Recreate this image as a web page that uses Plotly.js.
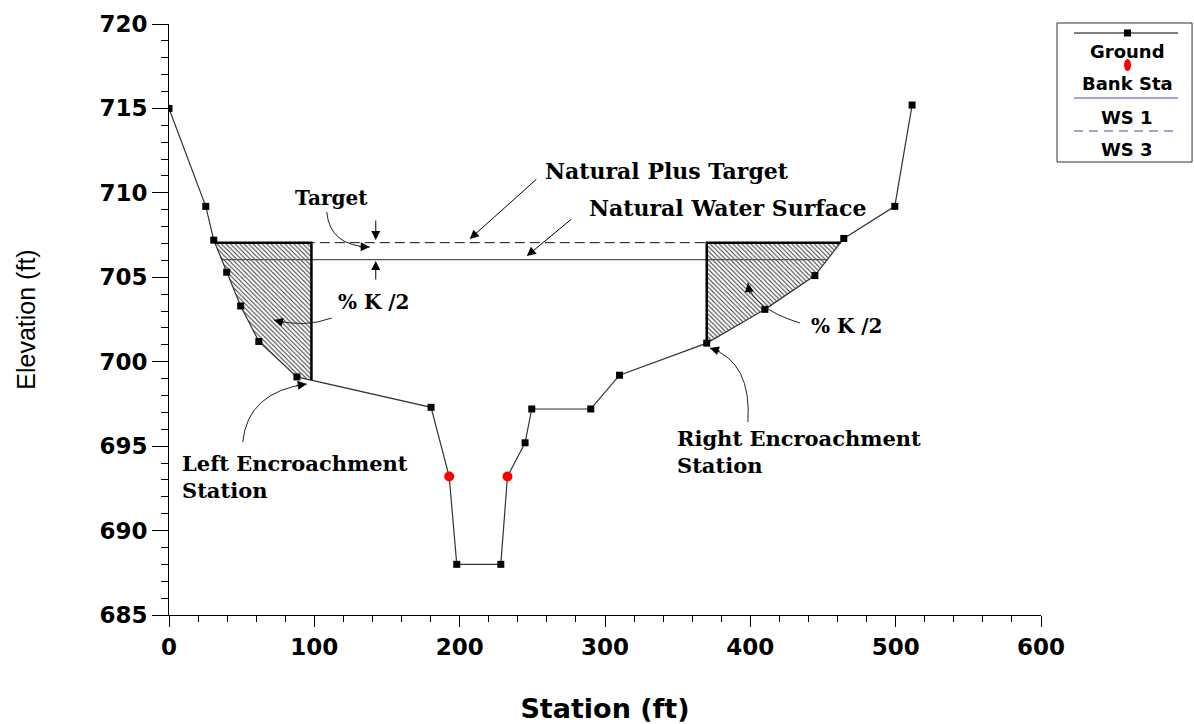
<!DOCTYPE html>
<html>
<head>
<meta charset="utf-8">
<script src="https://cdn.plot.ly/plotly-3.0.1.min.js"></script>
<style>html,body{margin:0;padding:0;background:#fff;}#chart{width:1194px;height:724px;}</style>
</head>
<body>
<div id="chart"></div>
<script>
// ---- Data ----
const groundStation = [0, 25.3, 30.8, 39.7, 49.3, 61.8, 88.0, 180.3, 192.8, 198.0, 228.3, 232.9, 245.0, 249.6, 290.2, 310.0, 370.0, 410.0, 444.4, 464.3, 499.4, 511.3];
const groundElev    = [715.0, 709.2, 707.2, 705.3, 703.3, 701.2, 699.1, 697.3, 693.2, 688.0, 688.0, 693.2, 695.2, 697.2, 697.2, 699.2, 701.1, 703.1, 705.1, 707.3, 709.2, 715.2];
const bankStation = [192.8, 232.9];
const bankElev    = [693.2, 693.2];
const ws1Elev = 706.05;   // natural water surface
const ws3Elev = 707.05;   // natural plus target
const leftEnc = 98;       // left encroachment station
const rightEnc = 370;     // right encroachment station
const xTicks = [0, 100, 200, 300, 400, 500, 600];
const yTicks = [685, 690, 695, 700, 705, 710, 715, 720];
const legendLabels = ["Ground", "Bank Sta", "WS 1", "WS 3"];

// ---- helpers on the ground profile ----
function gAt(x) {
  for (let i = 0; i < groundStation.length - 1; i++) {
    const a = groundStation[i], b = groundStation[i + 1];
    if (x >= a && x <= b) return groundElev[i] + (groundElev[i + 1] - groundElev[i]) * (x - a) / (b - a);
  }
  return null;
}
function crossLeft(t) {
  for (let i = 0; i < groundStation.length - 1; i++) {
    const e0 = groundElev[i], e1 = groundElev[i + 1];
    if (e0 >= t && e1 <= t) return groundStation[i] + (groundStation[i + 1] - groundStation[i]) * (e0 - t) / (e0 - e1);
  }
}
function crossRight(t) {
  for (let i = groundStation.length - 2; i >= 0; i--) {
    const e0 = groundElev[i], e1 = groundElev[i + 1];
    if (e0 <= t && e1 >= t) return groundStation[i] + (groundStation[i + 1] - groundStation[i]) * (t - e0) / (e1 - e0);
  }
}
const xL3 = crossLeft(ws3Elev), xR3 = crossRight(ws3Elev);
const xL1 = crossLeft(ws1Elev), xR1 = crossRight(ws1Elev);

// left hatched region
const lhx = [xL3, leftEnc, leftEnc], lhy = [ws3Elev, ws3Elev, gAt(leftEnc)];
for (let i = groundStation.length - 1; i >= 0; i--) {
  if (groundStation[i] > xL3 && groundStation[i] < leftEnc) { lhx.push(groundStation[i]); lhy.push(groundElev[i]); }
}
lhx.push(xL3); lhy.push(ws3Elev);
// right hatched region
const rhx = [rightEnc, xR3], rhy = [ws3Elev, ws3Elev];
for (let i = groundStation.length - 1; i >= 0; i--) {
  if (groundStation[i] > rightEnc && groundStation[i] < xR3) { rhx.push(groundStation[i]); rhy.push(groundElev[i]); }
}
rhx.push(rightEnc, rightEnc); rhy.push(gAt(rightEnc), ws3Elev);

const groundMarkerSize = groundStation.map(s => bankStation.includes(s) ? 0 : 7);

const hatch = {shape: '\\', fgcolor: '#333333', bgcolor: 'white', size: 3.2, solidity: 0.3};

const traces = [
  {x: lhx, y: lhy, type: 'scatter', mode: 'lines', fill: 'toself', fillpattern: hatch, line: {width: 0}, hoverinfo: 'skip'},
  {x: rhx, y: rhy, type: 'scatter', mode: 'lines', fill: 'toself', fillpattern: hatch, line: {width: 0}, hoverinfo: 'skip'},
  {x: [xL3, xR3], y: [ws3Elev, ws3Elev], type: 'scatter', mode: 'lines', name: 'WS 3', line: {color: '#111', width: 1, dash: '10px,5px'}},
  {x: [xL1, xR1], y: [ws1Elev, ws1Elev], type: 'scatter', mode: 'lines', name: 'WS 1', line: {color: '#555', width: 1.3}},
  {x: groundStation, y: groundElev, type: 'scatter', mode: 'lines+markers', name: 'Ground',
   line: {color: '#333', width: 1.2}, marker: {symbol: 'square', size: groundMarkerSize, color: '#000000', opacity: 1, line: {width: 0}}},
  {x: [xL3, leftEnc, leftEnc], y: [ws3Elev, ws3Elev, gAt(leftEnc)], type: 'scatter', mode: 'lines', line: {color: 'black', width: 2.5}, hoverinfo: 'skip'},
  {x: [xR3, rightEnc, rightEnc], y: [ws3Elev, ws3Elev, gAt(rightEnc)], type: 'scatter', mode: 'lines', line: {color: 'black', width: 2.5}, hoverinfo: 'skip'},
  {x: bankStation, y: bankElev, type: 'scatter', mode: 'markers', name: 'Bank Sta', marker: {symbol: 'circle', size: 10, color: '#ff0000', line: {width: 0}}}
];

// ---- pixel helpers for decorations (plot area 169..1041 x 24..615) ----
const X = px => (px - 169.3) / 871.7 * 600;
const Y = py => 720 - (py - 24) / 591 * 35;
const PX = px => (px - 169.3) / 871.7;
const PY = py => (615 - py) / 591;

const serif = {family: 'DejaVu Serif', size: 22, color: 'black', weight: 'bold'};
const serifS = {family: 'DejaVu Serif', size: 20, color: 'black', weight: 'bold'};

const annotations = [];
const shapes = [];
function label(text, px, py, font, yanchor) {
  annotations.push({x: X(px), y: Y(py), xref: 'x', yref: 'y', text: text, showarrow: false, xanchor: 'left', yanchor: yanchor || 'middle', align: 'left', font: font});
}
function straightArrow(tx, ty, hx, hy) {
  annotations.push({x: X(hx), y: Y(hy), xref: 'x', yref: 'y', ax: tx - hx, ay: ty - hy, text: '', showarrow: true,
    arrowhead: 2, arrowsize: 1.8, arrowwidth: 1, arrowcolor: 'black'});
}
function curvedArrow(tx, ty, cx, cy, hx, hy) {
  shapes.push({type: 'path', xref: 'x', yref: 'y', path: `M ${X(tx)} ${Y(ty)} Q ${X(cx)} ${Y(cy)} ${X(hx)} ${Y(hy)}`, line: {color: '#222', width: 1}});
  const dx = cx - hx, dy = cy - hy, L = Math.hypot(dx, dy);
  annotations.push({x: X(hx), y: Y(hy), xref: 'x', yref: 'y', ax: dx / L * 12, ay: dy / L * 12, text: '', showarrow: true,
    arrowhead: 2, arrowsize: 1.8, arrowwidth: 1, arrowcolor: 'black'});
}

label('Natural Plus Target', 543, 171, serif);
straightArrow(538, 178, 470, 239);
label('Natural Water Surface', 587, 208, serif);
straightArrow(573, 218, 527, 256);
label('Target', 293, 198, serifS);
curvedArrow(327, 212, 330, 246, 370, 247);
straightArrow(376, 219, 376, 240);
straightArrow(376, 281, 376, 261);
label('% K /2', 336, 302, serifS);
curvedArrow(332, 318, 305, 328, 274, 320);
label('% K /2', 809, 326, serifS);
curvedArrow(800, 323, 752, 308, 748, 283);
label('Left Encroachment<br>Station', 180, 449, {family: 'DejaVu Serif', size: 21, color: 'black', weight: 'bold'}, 'top');
curvedArrow(243, 442, 248, 392, 307, 384);
label('Right Encroachment<br>Station', 675, 424, {family: 'DejaVu Serif', size: 21, color: 'black', weight: 'bold'}, 'top');
curvedArrow(748, 422, 752, 362, 710, 348);

// ---- legend box (drawn as in the reference: symbol above label) ----
shapes.push({type: 'rect', xref: 'paper', yref: 'paper', x0: PX(1057), x1: PX(1192), y0: PY(162), y1: PY(23), line: {color: '#333', width: 1}, fillcolor: 'white'});
shapes.push({type: 'line', xref: 'paper', yref: 'paper', x0: PX(1074), x1: PX(1178), y0: PY(33), y1: PY(33), line: {color: 'black', width: 1}});
shapes.push({type: 'rect', xref: 'paper', yref: 'paper', x0: PX(1124), x1: PX(1131), y0: PY(36.5), y1: PY(29.5), line: {width: 0}, fillcolor: 'black'});
shapes.push({type: 'circle', xref: 'paper', yref: 'paper', x0: PX(1124), x1: PX(1131), y0: PY(71), y1: PY(59), line: {width: 0}, fillcolor: '#ff0000'});
shapes.push({type: 'line', xref: 'paper', yref: 'paper', x0: PX(1074), x1: PX(1178), y0: PY(98), y1: PY(98), line: {color: '#4646d8', width: 1.2}});
shapes.push({type: 'line', xref: 'paper', yref: 'paper', x0: PX(1074), x1: PX(1178), y0: PY(131), y1: PY(131), line: {color: '#8484c8', width: 1.5, dash: '9px,6px'}});
const legY = [51, 83, 117, 149];
legendLabels.forEach((t, i) => {
  annotations.push({x: PX(1127), y: PY(legY[i]), xref: 'paper', yref: 'paper', text: t, showarrow: false, xanchor: 'center', yanchor: 'middle',
    font: {family: 'DejaVu Sans', size: 18, color: 'black', weight: 'bold'}});
});

const tickFont = {family: 'DejaVu Sans', size: 23, color: 'black', weight: 'bold'};
const layout = {
  width: 1194, height: 724,
  margin: {l: 169, r: 153, t: 24, b: 109},
  paper_bgcolor: 'white', plot_bgcolor: 'white',
  showlegend: false,
  xaxis: {
    range: [0, 600], tickvals: xTicks, ticktext: xTicks.map(String), ticks: 'outside', ticklen: 11, tickcolor: 'black',
    minor: {dtick: 20, tick0: 0, ticks: 'outside', ticklen: 6, tickcolor: 'black'},
    showline: true, linecolor: 'black', linewidth: 1, showgrid: false, zeroline: false,
    tickfont: tickFont,
    title: {text: 'Station (ft)', font: {family: 'DejaVu Sans', size: 27, color: 'black', weight: 'bold'}, standoff: 47}
  },
  yaxis: {
    range: [685, 720], tickvals: yTicks, ticktext: yTicks.map(String), ticks: 'outside', ticklen: 16, tickcolor: 'black',
    minor: {dtick: 1, tick0: 685, ticks: 'outside', ticklen: 7, tickcolor: 'black'},
    showline: true, linecolor: 'black', linewidth: 1, showgrid: false, zeroline: false,
    tickfont: tickFont,
    title: {text: 'Elevation (ft)', font: {family: 'Liberation Sans', size: 25, color: 'black'}, standoff: 56}
  },
  shapes: shapes,
  annotations: annotations
};

Plotly.newPlot('chart', traces, layout, {staticPlot: true, displayModeBar: false});
</script>
</body>
</html>
